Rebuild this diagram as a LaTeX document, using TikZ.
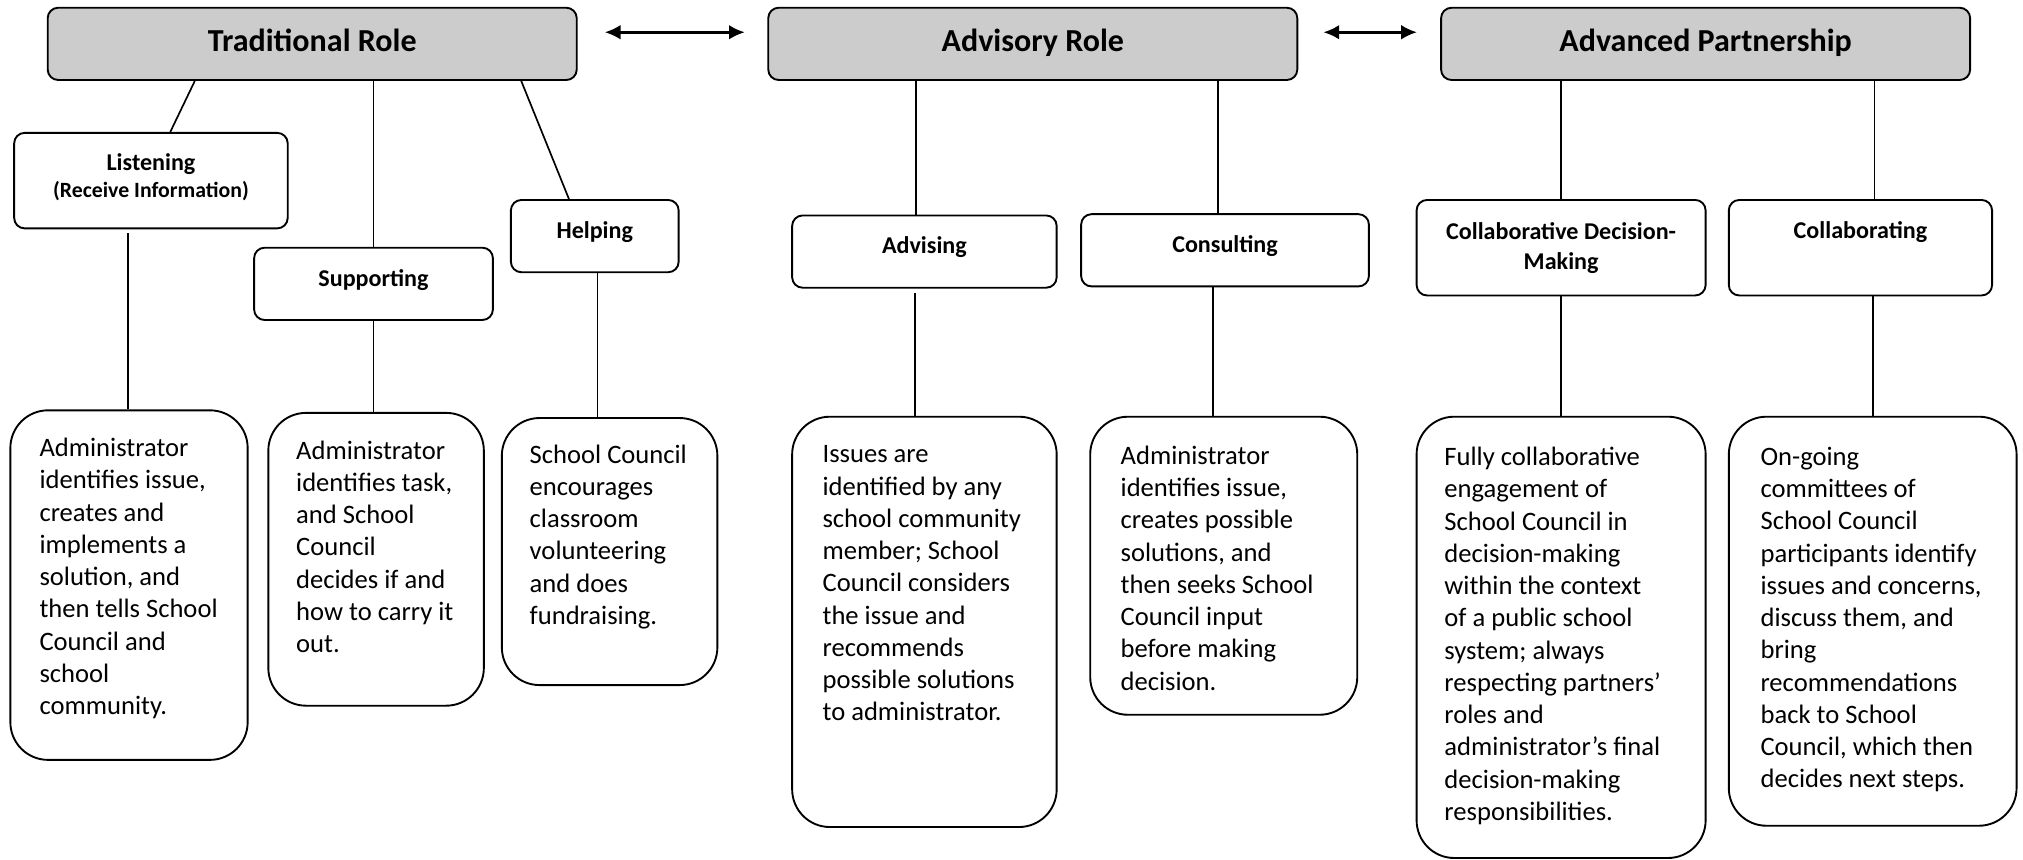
\documentclass[tikz,border=0pt]{standalone}
\usepackage{fontspec}
\setmainfont{Carlito}
\usetikzlibrary{arrows.meta}

\begin{document}
\begin{tikzpicture}[x=0.616pt,y=-0.616pt,
      role node/.style={rectangle,draw,rounded corners=5pt,fill=gray!40,line width=0.9pt,
        minimum width=252.6pt,minimum height=34.5pt,text height=10pt,text depth=2.4pt,
        font=\fontsize{15.3}{18}\selectfont\bfseries},
      level node/.style={rectangle,draw,rounded corners=5pt,fill=white,line width=0.9pt,
        align=center,font=\fontsize{11.5}{14.2}\selectfont\bfseries},
      one line/.style={text height=7pt,text depth=5pt},
      desc node/.style={rectangle,draw,rounded corners=18pt,line width=0.9pt},
      desc text/.style={anchor=north west,inner sep=0pt,align=left,font=\fontsize{12.7}{15.4}\selectfont},
      link/.style={draw,line width=0.8pt},
      twoway/.style={{Latex[length=7.5pt,width=7pt]}-{Latex[length=7.5pt,width=7pt]},line width=1.2pt}]

  \useasboundingbox (0,0) rectangle (1568,666);

  % the three roles
  \node[role node] (trad) at (242,34) {Traditional Role};
  \node[role node] (advis) at (800.5,34) {Advisory Role};
  \node[role node] (partner) at (1322,34) {Advanced Partnership};

  \coordinate (a1) at ([shift={(21,-9)}]trad.east);
  \coordinate (a2) at ([shift={(-17.5,-9)}]advis.west);
  \coordinate (a3) at ([shift={(19.5,-9)}]advis.east);
  \coordinate (a4) at ([shift={(-18,-9)}]partner.west);
  \draw[twoway] (a1) -- (a2);
  \draw[twoway] (a3) -- (a4);

  % levels
  \node[level node,text depth=4.6pt,minimum width=130.6pt,minimum height=45.6pt] (listen) at (117,140)
    {Listening\\[-1.5pt]{\fontsize{10.4}{12}\selectfont(Receive Information)}};
  \node[level node,text height=7pt,text depth=4.4pt,minimum width=114pt,minimum height=34.5pt] (support) at (289.5,220) {Supporting};
  \node[level node,one line,minimum width=80.1pt,minimum height=34.5pt] (help) at (461,183) {Helping};
  \node[level node,one line,minimum width=126.3pt,minimum height=34.5pt] (advise) at (716.5,195) {Advising};
  \node[level node,one line,minimum width=137.4pt,minimum height=34.5pt] (consult) at (949.5,194) {Consulting};
  \node[level node,minimum width=138pt,minimum height=45.6pt] (cdm) at (1210,192)
    {Collaborative Decision-\\Making};
  \node[level node,text height=7pt,text depth=15.4pt,minimum width=125.7pt,minimum height=45.6pt] (collab) at (1442,192)
    {Collaborating};

  % descriptions
  \node[desc node,minimum width=113.3pt,minimum height=166.9pt] (d1) at (100,453.5) {};
  \node[desc node,minimum width=102.9pt,minimum height=139.8pt] (d2) at (291.5,433.5) {};
  \node[desc node,minimum width=102.9pt,minimum height=127.5pt] (d3) at (472.5,427.5) {};
  \node[desc node,minimum width=126.3pt,minimum height=195.9pt] (d4) at (716.5,482) {};
  \node[desc node,minimum width=127.5pt,minimum height=142.3pt] (d5) at (948.5,438.5) {};
  \node[desc node,minimum width=138pt,minimum height=210.7pt] (d6) at (1210,494) {};
  \node[desc node,minimum width=137.4pt,minimum height=195.3pt] (d7) at (1451.5,481.5) {};

  \node[desc text] (t1) at ([shift={(23,22)}]d1.north west)
    {Administrator\\identifies issue,\\creates and\\implements a\\solution, and\\then tells School\\Council and\\school\\community.};
  \node[desc text] (t2) at ([shift={(22,22)}]d2.north west)
    {Administrator\\identifies task,\\and School\\Council\\decides if and\\how to carry it\\out.};
  \node[desc text] (t3) at ([shift={(22,21)}]d3.north west)
    {School Council\\encourages\\classroom\\volunteering\\and does\\fundraising.};
  \node[desc text] (t4) at ([shift={(24,23)}]d4.north west)
    {Issues are\\identified by any\\school community\\member; School\\Council considers\\the issue and\\recommends\\possible solutions\\to administrator.};
  \node[desc text] (t5) at ([shift={(24,23)}]d5.north west)
    {Administrator\\identifies issue,\\creates possible\\solutions, and\\then seeks School\\Council input\\before making\\decision.};
  \node[desc text] (t6) at ([shift={(22,24)}]d6.north west)
    {Fully collaborative\\engagement of\\School Council in\\decision-making\\within the context\\of a public school\\system; always\\respecting partners’\\roles and\\administrator’s final\\decision-making\\responsibilities.};
  \node[desc text] (t7) at ([shift={(25,24)}]d7.north west)
    {On-going\\committees of\\School Council\\participants identify\\issues and concerns,\\discuss them, and\\bring\\recommendations\\back to School\\Council, which then\\decides next steps.};

  % connectors
  \path[link]
    ([shift={(-91,0)}]trad.south) edge ([shift={(15,0)}]listen.north)
    (support.north |- trad.south) edge (support.north)
    ([shift={(162,0)}]trad.south) edge ([shift={(-20,0)}]help.north)
    ([shift={(-6.5,0)}]advise.north |- advis.south) edge ([shift={(-6.5,0)}]advise.north)
    ([shift={(-5.5,0)}]consult.north |- advis.south) edge ([shift={(-5.5,0)}]consult.north)
    (cdm.north |- partner.south) edge (cdm.north)
    ([shift={(11,0)}]collab.north |- partner.south) edge ([shift={(11,0)}]collab.north);
  \path[link]
    ([shift={(-18,3)}]listen.south) edge (d1.north -| 99,0)
    (support.south) edge (support.south |- d2.north)
    ([shift={(2,0)}]help.south) edge ([shift={(2,0)}]help.south |- d3.north)
    ([shift={(-7.5,3)}]advise.south) edge ([shift={(-7.5,0)}]advise.south |- d4.north)
    ([shift={(-9.5,0)}]consult.south) edge ([shift={(-9.5,0)}]consult.south |- d5.north)
    (cdm.south) edge (d6.north)
    (collab.south -| d7.north) edge (d7.north);
\end{tikzpicture}
\end{document}
